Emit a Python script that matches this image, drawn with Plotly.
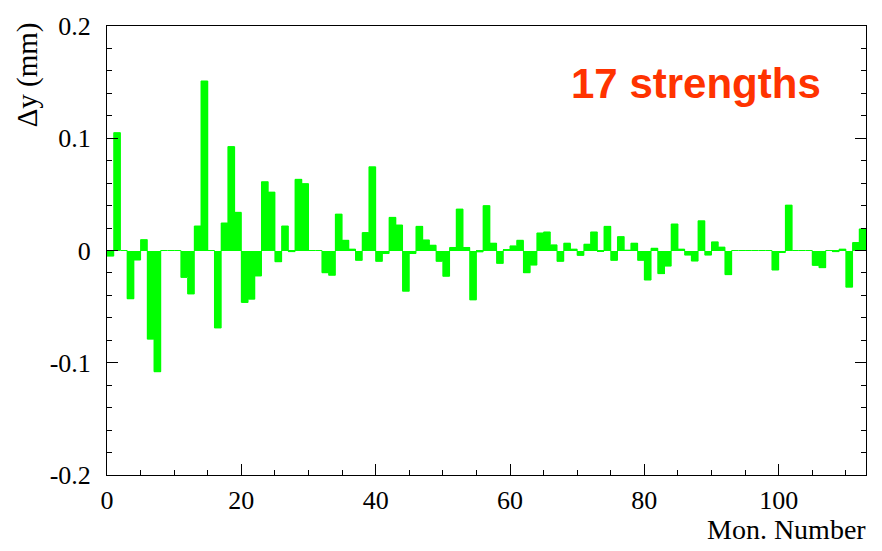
import plotly.graph_objects as go

# Vertical orbit difference per monitor, one value per monitor bin (mm)
monitor_index = list(range(113))
delta_y = [
    -0.005, 0.105, 0.0, -0.043, -0.0085, 0.0097, -0.079, -0.108, 0.0, 0.0,
    0.0, -0.024, -0.0387, 0.0218, 0.151, 0.0, -0.069, 0.0245, 0.0926, 0.034,
    -0.0463, -0.0434, -0.0227, 0.0613, 0.052, -0.010, 0.0218, -0.001, 0.0634, 0.0596,
    0.0, 0.0, -0.0198, -0.0221, 0.0324, 0.0091, 0.0012, -0.0088, 0.016, 0.0746,
    -0.0097, -0.0027, 0.0295, 0.0227, -0.0363, -0.0027, 0.0215, 0.0094, 0.0047, -0.0097,
    -0.023, 0.0027, 0.0369, 0.0027, -0.044, -0.0012, 0.040, 0.0065, -0.0115, 0.0005,
    0.0041, 0.0091, -0.0198, -0.013, 0.0156, 0.0165, 0.005, -0.0097, 0.0065, 0.0012,
    -0.0044, 0.0056, 0.0165, -0.0005, 0.0215, -0.0088, 0.0124, 0.0003, 0.0065, -0.0088,
    -0.0263, 0.002, -0.0206, -0.0139, 0.0236, 0.0012, -0.0041, -0.0094, 0.0265, -0.0041,
    0.0077, 0.003, -0.0215, 0.0, 0.0, 0.0, 0.0, 0.0, 0.0, -0.0174,
    -0.0018, 0.0404, 0.0, 0.0, 0.0, -0.0133, -0.0153, 0.0, -0.001, 0.0012,
    -0.0327, 0.0071, 0.0192,
]
x_ticks = [0, 20, 40, 60, 80, 100]
y_ticks = [-0.2, -0.1, 0, 0.1, 0.2]
y_tick_text = ["-0.2", "-0.1", "0", "0.1", "0.2"]

GREEN = "#00ff00"
SERIF = "Liberation Serif, Times New Roman, serif"

centers = [i + 0.5 for i in monitor_index]
edges = monitor_index + [monitor_index[-1] + 1]
outline = delta_y + [delta_y[-1]]

fig = go.Figure()
fig.add_trace(go.Bar(
    x=centers, y=delta_y, width=1,
    marker=dict(color=GREEN, line=dict(width=0)),
    hoverinfo="x+y",
))
# histogram outline (visible as a thin line where a bin is empty)
fig.add_trace(go.Scatter(
    x=edges, y=outline, mode="lines",
    line=dict(color=GREEN, width=1, shape="hv"),
    hoverinfo="skip",
))

axis_common = dict(
    showgrid=False, zeroline=False, showline=True,
    linecolor="black", linewidth=1,
    ticks="inside", tickcolor="black", tickwidth=1,
    tickfont=dict(family=SERIF, size=26, color="black"),
)

fig.update_xaxes(
    range=[0, 113], tickvals=x_ticks, ticklen=11, mirror=True,
    minor=dict(dtick=5, tick0=0, ticks="inside", ticklen=5,
               tickcolor="black", tickwidth=1),
    ticklabelstandoff=2,
    **axis_common,
)
fig.update_yaxes(
    range=[-0.2, 0.2], tickvals=y_ticks, ticktext=y_tick_text,
    ticklen=11, mirror="ticks",
    minor=dict(dtick=0.02, tick0=0, ticks="inside", ticklen=5,
               tickcolor="black", tickwidth=1),
    ticklabelstandoff=10,
    **axis_common,
)

fig.add_annotation(
    text="17 strengths", xref="paper", yref="paper",
    x=0.609, y=0.873, xanchor="left", yanchor="middle", showarrow=False,
    font=dict(family="Liberation Sans, Arial, sans-serif", size=42,
              color="#ff3300", weight="bold"),
)
fig.add_annotation(
    text="Mon. Number", xref="paper", yref="paper",
    x=1.003, y=-0.121, xanchor="right", yanchor="middle", showarrow=False,
    font=dict(family=SERIF, size=28, color="black"),
)
fig.add_annotation(
    text="\u0394y (mm)", xref="paper", yref="paper",
    x=-0.1045, y=1.013, xanchor="center", yanchor="top", showarrow=False,
    textangle=-90,
    font=dict(family=SERIF, size=29, color="black"),
)

fig.update_layout(
    width=882, height=551,
    margin=dict(l=107, r=16, t=20, b=76),
    paper_bgcolor="white", plot_bgcolor="white",
    showlegend=False, bargap=0,
)

fig.write_html("out.html")
